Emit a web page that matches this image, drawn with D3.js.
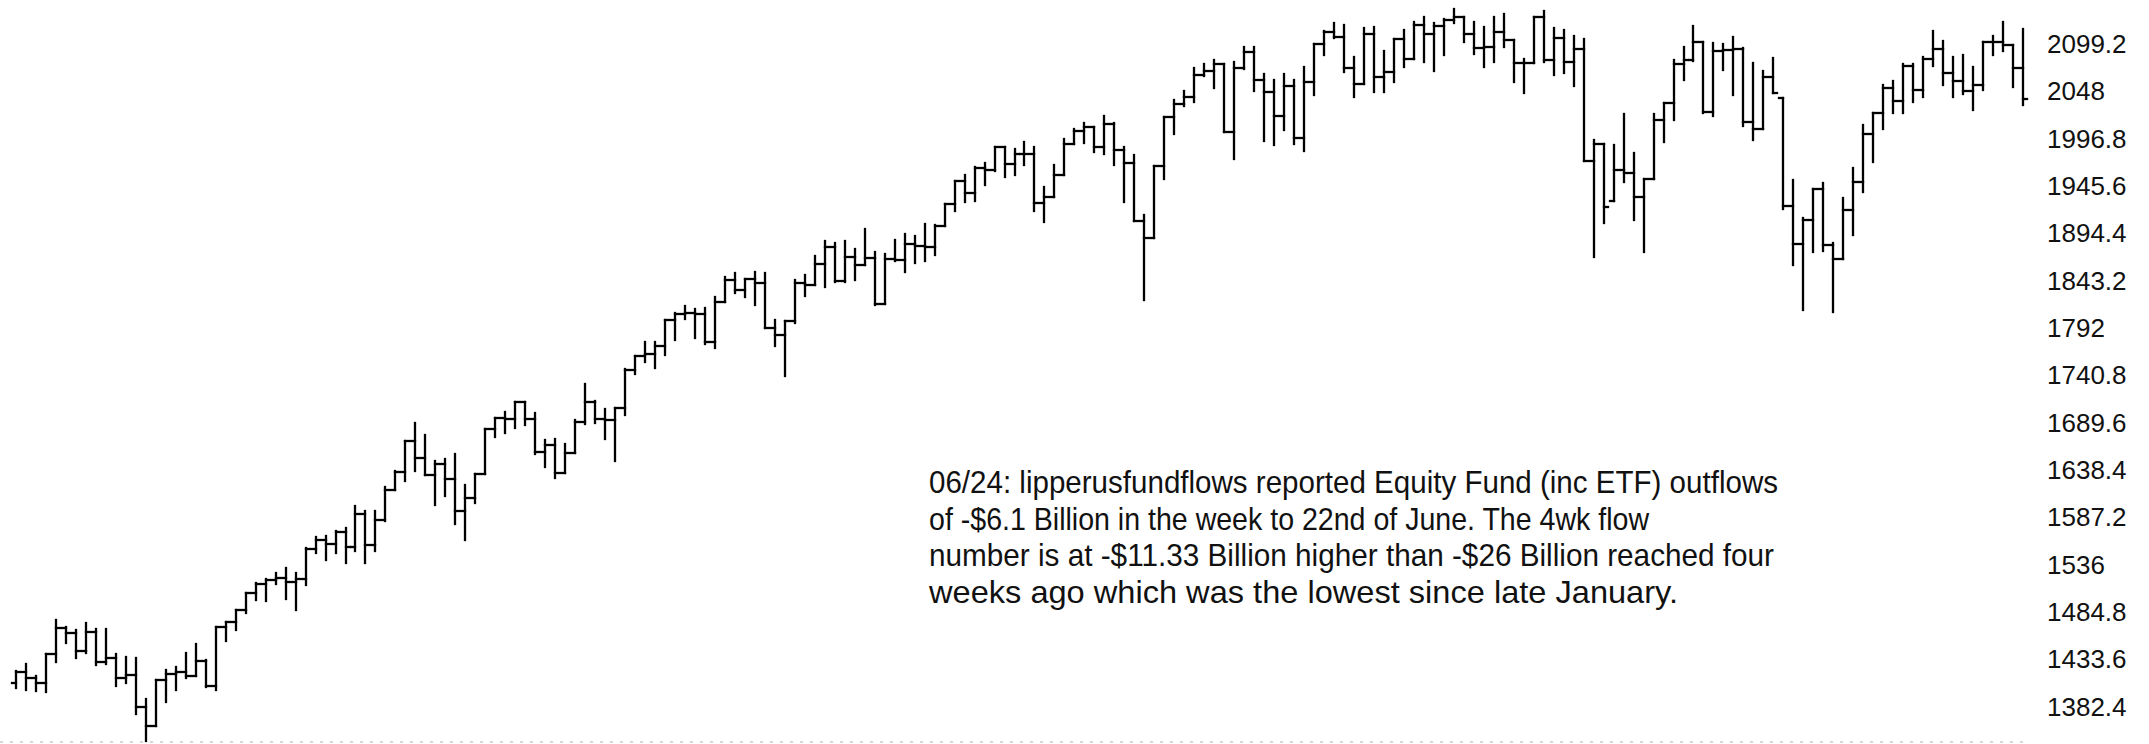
<!DOCTYPE html>
<html><head><meta charset="utf-8">
<script src="https://cdn.jsdelivr.net/npm/d3@7"></script>
<style>html,body{margin:0;padding:0;background:#fff;overflow:hidden}</style>
</head><body>
<script>
const weeks = ["2012-08-17","2012-08-24","2012-08-31","2012-09-07","2012-09-14","2012-09-21","2012-09-28","2012-10-05","2012-10-12","2012-10-19","2012-10-26","2012-11-02","2012-11-09","2012-11-16","2012-11-23","2012-11-30","2012-12-07","2012-12-14","2012-12-21","2012-12-28",
"2013-01-04","2013-01-11","2013-01-18","2013-01-25","2013-02-01","2013-02-08","2013-02-15","2013-02-22","2013-03-01","2013-03-08","2013-03-15","2013-03-22","2013-03-29","2013-04-05","2013-04-12","2013-04-19","2013-04-26","2013-05-03","2013-05-10","2013-05-17","2013-05-24","2013-05-31","2013-06-07","2013-06-14","2013-06-21","2013-06-28","2013-07-05","2013-07-12","2013-07-19","2013-07-26","2013-08-02","2013-08-09","2013-08-16","2013-08-23","2013-08-30","2013-09-06","2013-09-13","2013-09-20","2013-09-27","2013-10-04","2013-10-11","2013-10-18","2013-10-25","2013-11-01","2013-11-08","2013-11-15","2013-11-22","2013-11-29","2013-12-06","2013-12-13","2013-12-20","2013-12-27",
"2014-01-03","2014-01-10","2014-01-17","2014-01-24","2014-01-31","2014-02-07","2014-02-14","2014-02-21","2014-02-28","2014-03-07","2014-03-14","2014-03-21","2014-03-28","2014-04-04","2014-04-11","2014-04-18","2014-04-25","2014-05-02","2014-05-09","2014-05-16","2014-05-23","2014-05-30","2014-06-06","2014-06-13","2014-06-20","2014-06-27","2014-07-04","2014-07-11","2014-07-18","2014-07-25","2014-08-01","2014-08-08","2014-08-15","2014-08-22","2014-08-29","2014-09-05","2014-09-12","2014-09-19","2014-09-26","2014-10-03","2014-10-10","2014-10-17","2014-10-24","2014-10-31","2014-11-07","2014-11-14","2014-11-21","2014-11-28","2014-12-05","2014-12-12","2014-12-19","2014-12-26",
"2015-01-02","2015-01-09","2015-01-16","2015-01-23","2015-01-30","2015-02-06","2015-02-13","2015-02-20","2015-02-27","2015-03-06","2015-03-13","2015-03-20","2015-03-27","2015-04-03","2015-04-10","2015-04-17","2015-04-24","2015-05-01","2015-05-08","2015-05-15","2015-05-22","2015-05-29","2015-06-05","2015-06-12","2015-06-19","2015-06-26","2015-07-03","2015-07-10","2015-07-17","2015-07-24","2015-07-31","2015-08-07","2015-08-14","2015-08-21","2015-08-28","2015-09-04","2015-09-11","2015-09-18","2015-09-25","2015-10-02","2015-10-09","2015-10-16","2015-10-23","2015-10-30","2015-11-06","2015-11-13","2015-11-20","2015-11-27","2015-12-04","2015-12-11","2015-12-18","2015-12-25","2016-01-01",
"2016-01-08","2016-01-15","2016-01-22","2016-01-29","2016-02-05","2016-02-12","2016-02-19","2016-02-26","2016-03-04","2016-03-11","2016-03-18","2016-03-25","2016-04-01","2016-04-08","2016-04-15","2016-04-22","2016-04-29","2016-05-06","2016-05-13","2016-05-20","2016-05-27","2016-06-03","2016-06-10","2016-06-17","2016-06-24"];

const open = [1405.9,1418.2,1411.1,1406.6,1437.9,1465.8,1460.2,1440.7,1460.9,1428.6,
1433.2,1411.9,1414.2,1379.9,1359.9,1409.2,1416.2,1418.1,1413.6,1430.2,
1402.4,1466.5,1472.1,1485.0,1503.0,1513.2,1517.9,1519.8,1515.6,1518.2,
1551.2,1560.7,1556.9,1569.2,1553.3,1588.9,1555.3,1582.2,1614.4,1633.7,
1667.5,1649.6,1630.7,1643.4,1626.7,1592.4,1606.3,1631.9,1680.2,1692.1,
1691.7,1709.7,1691.4,1655.8,1663.5,1633.0,1655.2,1688.0,1709.9,1691.8,
1690.5,1703.2,1744.5,1759.8,1761.6,1770.6,1798.2,1804.8,1805.8,1805.1,
1775.3,1818.3,1841.4,1831.4,1842.4,1838.7,1790.3,1782.6,1797.0,1838.6,
1836.3,1859.5,1878.0,1841.1,1866.5,1857.6,1865.1,1815.7,1864.9,1863.4,
1881.1,1878.5,1877.9,1900.5,1923.6,1949.4,1936.2,1962.9,1961.0,1985.4,
1967.6,1978.2,1978.3,1925.2,1931.6,1955.1,1988.4,2003.4,2007.7,1985.5,
2010.4,1982.9,1967.9,1906.1,1886.8,1964.6,2018.1,2031.9,2039.8,2063.5,
2067.6,2075.4,2002.3,2070.7,2088.8,2058.2,2044.8,2019.4,2051.8,1995.0,
2055.5,2097.0,2110.3,2104.5,2071.3,2053.4,2108.1,2061.0,2067.0,2102.1,
2081.2,2117.7,2108.3,2116.1,2122.7,2126.1,2107.4,2092.8,2094.1,2110.0,
2101.5,2076.8,2076.6,2126.6,2079.7,2103.8,2077.6,2091.5,1970.9,1988.9,
1927.6,1961.1,1958.0,1931.3,1951.4,2014.9,2033.1,2075.2,2079.4,2099.2,
2023.0,2089.2,2090.1,2091.7,2012.4,2005.5,2061.0,2038.2,1922.0,1880.3,
1906.9,1940.2,1880.1,1864.8,1917.8,1948.1,2000.0,2022.2,2049.6,2035.9,
2072.8,2047.6,2080.7,2091.6,2065.3,2057.1,2046.6,2052.3,2099.1,2099.1,
2096.1,2071.2];

const high = [1418.7,1426.7,1413.5,1437.9,1474.5,1467.1,1463.6,1471.0,1464.0,1464.0,
1437.0,1434.3,1433.4,1388.8,1409.2,1419.7,1423.7,1438.6,1448.0,1430.7,
1466.5,1472.3,1485.2,1503.3,1514.4,1518.3,1524.7,1530.9,1525.3,1552.5,
1563.6,1564.9,1570.3,1573.7,1597.4,1592.6,1592.6,1618.5,1635.0,1667.5,
1687.2,1674.2,1646.5,1648.7,1654.2,1620.1,1632.1,1680.2,1693.1,1698.8,
1709.7,1709.7,1698.4,1669.2,1669.5,1664.8,1690.0,1729.9,1711.5,1701.9,
1703.4,1745.3,1759.8,1775.2,1774.5,1798.2,1806.6,1813.6,1810.0,1811.5,
1823.8,1844.9,1849.4,1843.2,1850.8,1849.3,1798.8,1798.0,1841.7,1846.9,
1867.9,1883.6,1882.3,1884.0,1875.2,1897.3,1872.5,1869.6,1884.9,1891.3,
1889.1,1902.2,1901.3,1924.0,1949.4,1955.6,1963.9,1968.2,1985.6,1985.6,
1983.9,1991.4,1985.3,1942.9,1966.0,1994.0,2005.0,2011.2,2007.7,2019.3,
2011.2,1985.2,1977.4,1912.1,1965.3,2018.2,2036.5,2046.2,2071.5,2075.8,
2079.5,2075.8,2077.9,2093.6,2093.6,2064.4,2058.0,2064.6,2057.6,2072.4,
2097.0,2110.6,2119.6,2117.5,2083.5,2113.9,2114.9,2089.8,2102.6,2111.9,
2120.9,2125.9,2120.0,2123.9,2134.7,2126.2,2121.0,2115.0,2126.6,2130.0,
2101.5,2080.4,2126.6,2132.8,2114.2,2112.7,2105.4,2102.7,1993.5,1988.9,
1988.0,2020.9,1978.8,1951.4,2020.9,2033.5,2079.7,2094.3,2116.5,2099.2,
2097.7,2097.1,2104.3,2093.0,2076.7,2067.6,2081.6,2038.3,1950.3,1908.8,
1940.2,1947.2,1881.6,1930.7,1963.0,2009.1,2022.4,2052.4,2056.6,2075.1,
2075.0,2083.0,2111.1,2099.9,2083.0,2084.9,2071.9,2099.1,2105.3,2120.6,
2096.1,2113.3];

const low = [1400.5,1398.0,1397.0,1396.6,1429.1,1449.6,1432.8,1439.0,1425.5,1427.0,
1403.3,1405.9,1373.0,1343.4,1359.9,1385.4,1398.1,1411.9,1413.5,1401.6,
1398.1,1451.6,1463.8,1482.0,1495.3,1495.0,1513.6,1497.3,1485.0,1512.5,
1547.0,1538.6,1546.2,1536.0,1548.6,1536.0,1548.6,1581.3,1614.4,1625.0,
1635.5,1630.7,1598.2,1608.1,1577.7,1560.3,1601.0,1631.9,1671.8,1676.0,
1681.9,1684.9,1654.2,1639.4,1627.5,1633.0,1655.2,1686.0,1687.2,1670.4,
1646.5,1696.0,1740.5,1752.7,1746.2,1760.6,1777.2,1800.0,1779.1,1772.3,
1768.0,1818.0,1827.7,1823.7,1815.3,1790.3,1770.5,1737.9,1795.0,1824.6,
1836.3,1834.4,1839.6,1840.0,1842.1,1857.6,1814.4,1815.7,1862.0,1850.6,
1859.8,1862.4,1868.5,1900.5,1916.0,1925.8,1927.6,1944.7,1959.5,1952.9,
1955.6,1965.8,1916.5,1904.8,1931.6,1955.1,1988.4,1990.1,1980.3,1978.6,
1966.0,1926.0,1906.1,1820.7,1886.8,1951.4,2000.0,2030.2,2034.5,2062.0,
2049.6,2002.3,1972.6,2069.6,2046.0,1992.4,1988.1,2004.5,1989.2,1980.9,
2041.9,2085.4,2103.0,2066.4,2039.7,2053.4,2045.5,2045.5,2056.3,2072.4,
2081.2,2077.9,2067.9,2085.6,2120.0,2099.2,2085.7,2072.1,2078.0,2094.0,
2056.3,2044.0,2076.6,2077.1,2063.5,2066.0,2052.1,1970.9,1867.0,1903.1,
1927.6,1948.2,1906.7,1871.9,1951.4,1991.4,2014.8,2058.1,2079.0,2022.0,
2019.4,2068.9,2042.4,2008.0,1993.3,2005.5,2043.6,1918.5,1857.8,1809.4,
1872.6,1872.7,1807.6,1864.8,1891.0,1937.1,1969.8,2005.1,2022.5,2022.5,
2033.8,2039.7,2073.7,2052.3,2039.4,2043.0,2025.9,2047.3,2085.1,2089.0,
2050.4,2031.0];

const close = [1418.2,1411.1,1406.6,1437.9,1465.8,1460.2,1440.7,1460.9,1428.6,1433.2,
1411.9,1414.2,1379.9,1359.9,1409.2,1416.2,1418.1,1413.6,1430.2,1402.4,
1466.5,1472.1,1485.0,1503.0,1513.2,1517.9,1519.8,1515.6,1518.2,1551.2,
1560.7,1556.9,1569.2,1553.3,1588.9,1555.3,1582.2,1614.4,1633.7,1667.5,
1649.6,1630.7,1643.4,1626.7,1592.4,1606.3,1631.9,1680.2,1692.1,1691.7,
1709.7,1691.4,1655.8,1663.5,1633.0,1655.2,1688.0,1709.9,1691.8,1690.5,
1703.2,1744.5,1759.8,1761.6,1770.6,1798.2,1804.8,1805.8,1805.1,1775.3,
1818.3,1841.4,1831.4,1842.4,1838.7,1790.3,1782.6,1797.0,1838.6,1836.3,
1859.5,1878.0,1841.1,1866.5,1857.6,1865.1,1815.7,1864.9,1863.4,1881.1,
1878.5,1877.9,1900.5,1923.6,1949.4,1936.2,1962.9,1961.0,1985.4,1967.6,
1978.2,1978.3,1925.2,1931.6,1955.1,1988.4,2003.4,2007.7,1985.5,2010.4,
1982.9,1967.9,1906.1,1886.8,1964.6,2018.1,2031.9,2039.8,2063.5,2067.6,
2075.4,2002.3,2070.7,2088.8,2058.2,2044.8,2019.4,2051.8,1995.0,2055.5,
2097.0,2110.3,2104.5,2071.3,2053.4,2108.1,2061.0,2067.0,2102.1,2081.2,
2117.7,2108.3,2116.1,2122.7,2126.1,2107.4,2092.8,2094.1,2110.0,2101.5,
2076.8,2076.6,2126.6,2079.7,2103.8,2077.6,2091.5,1970.9,1988.9,1921.2,
1961.1,1958.0,1931.3,1951.4,2014.9,2033.1,2075.2,2079.4,2099.2,2023.0,
2089.2,2090.1,2091.7,2012.4,2005.5,2061.0,2043.9,1922.0,1880.3,1906.9,
1940.2,1880.1,1864.8,1917.8,1948.1,2000.0,2022.2,2049.6,2035.9,2072.8,
2047.6,2080.7,2091.6,2065.3,2057.1,2046.6,2052.3,2099.1,2099.1,2096.1,
2071.2,2037.4];

const tickValues = [2099.2,2048,1996.8,1945.6,1894.4,1843.2,1792,1740.8,1689.6,1638.4,1587.2,1536,1484.8,1433.6,1382.4];
const tickLabels = ["2099.2","2048","1996.8","1945.6","1894.4","1843.2","1792","1740.8","1689.6","1638.4","1587.2","1536","1484.8","1433.6","1382.4"];

const noteLines = [
  "06/24: lipperusfundflows reported Equity Fund (inc ETF) outflows",
  "of -$6.1 Billion in the week to 22nd of June. The 4wk flow",
  "number is at -$11.33 Billion higher than -$26 Billion reached four",
  "weeks ago which was the lowest since late January."
];

const W = 2149, H = 744;
const svg = d3.select("body").append("svg").attr("width", W).attr("height", H)
  .style("display","block").style("background","#fff");

const bars = weeks.map((w,i)=>({w, o:open[i], h:high[i], l:low[i], c:close[i]}));

const x = d3.scalePoint().domain(weeks).range([16, 2023]);
const y = d3.scaleLinear().domain([1382.4, 2099.2]).range([704.9, 42]);

// faint dotted baseline along the bottom edge
svg.append("line").attr("x1",0).attr("x2",2030).attr("y1",742).attr("y2",742)
  .attr("stroke","#d8d8d8").attr("stroke-width",2).attr("stroke-dasharray","3,7");

const g = svg.append("g").attr("stroke","#000").attr("stroke-width",2.3).attr("fill","none")
  .attr("stroke-linecap","square");
const bar = g.selectAll("g.bar").data(bars).join("g").attr("class","bar");
bar.append("line").attr("x1",d=>Math.round(x(d.w))).attr("x2",d=>Math.round(x(d.w)))
  .attr("y1",d=>Math.round(y(d.h))).attr("y2",d=>Math.round(y(d.l)));
bar.append("line").attr("x1",d=>Math.round(x(d.w))-4).attr("x2",d=>Math.round(x(d.w)))
  .attr("y1",d=>Math.round(y(d.o))).attr("y2",d=>Math.round(y(d.o)));
bar.append("line").attr("x1",d=>Math.round(x(d.w))).attr("x2",d=>Math.round(x(d.w))+4)
  .attr("y1",d=>Math.round(y(d.c))).attr("y2",d=>Math.round(y(d.c)));

const axis = d3.axisRight(y).tickValues(tickValues).tickSize(0).tickPadding(7)
  .tickFormat((d,i)=>tickLabels[i]);
const ax = svg.append("g").attr("transform","translate(2040,2)").call(axis);
ax.select(".domain").remove();
ax.selectAll("text").attr("font-family","'Liberation Sans', Arial, sans-serif")
  .attr("font-size",26).attr("fill","#111");

const note = svg.append("g").attr("font-family","'Liberation Sans', Arial, sans-serif")
  .attr("font-size",32).attr("fill","#111");
const noteEnds = [1778, 1649, 1774, 1678];
note.selectAll("text").data(noteLines).join("text")
  .attr("x",929).attr("y",(d,i)=>493 + i*36.5)
  .attr("textLength",(d,i)=>noteEnds[i]-929).attr("lengthAdjust","spacingAndGlyphs")
  .text(d=>d);
</script>
</body></html>
